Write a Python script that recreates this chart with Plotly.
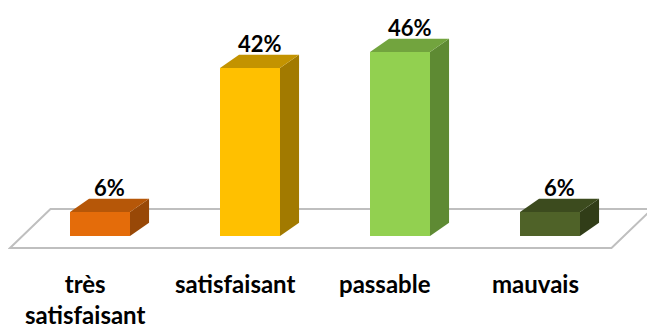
import plotly.graph_objects as go

# data
categories = ["très<br>satisfaisant", "satisfaisant", "passable", "mauvais"]
values = [6, 42, 46, 6]
value_labels = ["6%", "42%", "46%", "6%"]

front_colors = ["#E46C0A", "#FFC000", "#92D050", "#4F6228"]
top_colors = ["#B65708", "#C39300", "#72A43E", "#3C4B1E"]
side_colors = ["#984807", "#A27A00", "#5E8A33", "#313D18"]

FONT = "Lato"
bar_w = 0.4
dx, dy = 0.127, 3.3          # depth offset of the 3D faces (data units)

fig = go.Figure()

xs = list(range(len(categories)))

# front faces
fig.add_trace(go.Bar(
    x=xs, y=values, width=bar_w,
    marker=dict(color=front_colors, line=dict(width=0)),
    hoverinfo="skip", showlegend=False,
))

# side and top faces
for i, v in enumerate(values):
    l, r = xs[i] - bar_w / 2, xs[i] + bar_w / 2
    fig.add_trace(go.Scatter(
        x=[r, r + dx, r + dx, r, r], y=[0, dy, v + dy, v, 0],
        mode="lines", fill="toself", fillcolor=side_colors[i],
        line=dict(width=0), hoverinfo="skip", showlegend=False))
    fig.add_trace(go.Scatter(
        x=[l, r, r + dx, l + dx, l], y=[v, v, v + dy, v + dy, v],
        mode="lines", fill="toself", fillcolor=top_colors[i],
        line=dict(width=0), hoverinfo="skip", showlegend=False))
    fig.add_annotation(x=xs[i] + dx / 2, y=v + dy, text="<b>%s</b>" % value_labels[i],
                       showarrow=False, yanchor="bottom", yshift=-4,
                       font=dict(family=FONT, size=22, color="black"))
    fig.add_annotation(x=xs[i], y=0, yref="y", text="<b>%s</b>" % categories[i],
                       showarrow=False, yanchor="top", xshift=-15, yshift=-31,
                       align="center",
                       font=dict(family=FONT, size=24, color="black"))

# floor
n = len(categories)
x0, x1 = -0.6, n - 1 + 0.41
fdx, y_front, y_back = 0.27, -3, 6.75
fig.add_shape(type="path", layer="below",
              path="M %f,%f L %f,%f L %f,%f L %f,%f Z" % (
                  x0, y_front, x1, y_front, x1 + fdx, y_back, x0 + fdx, y_back),
              fillcolor="white", line=dict(color="#BFBFBF", width=2))

fig.update_layout(
    width=655, height=331,
    margin=dict(l=0, r=0, t=0, b=0),
    paper_bgcolor="white", plot_bgcolor="white",
    xaxis=dict(range=[-0.6133, 3.7533], visible=False),
    yaxis=dict(range=[-25.75, 57], visible=False),
    showlegend=False,
)

fig.write_html("out.html")
